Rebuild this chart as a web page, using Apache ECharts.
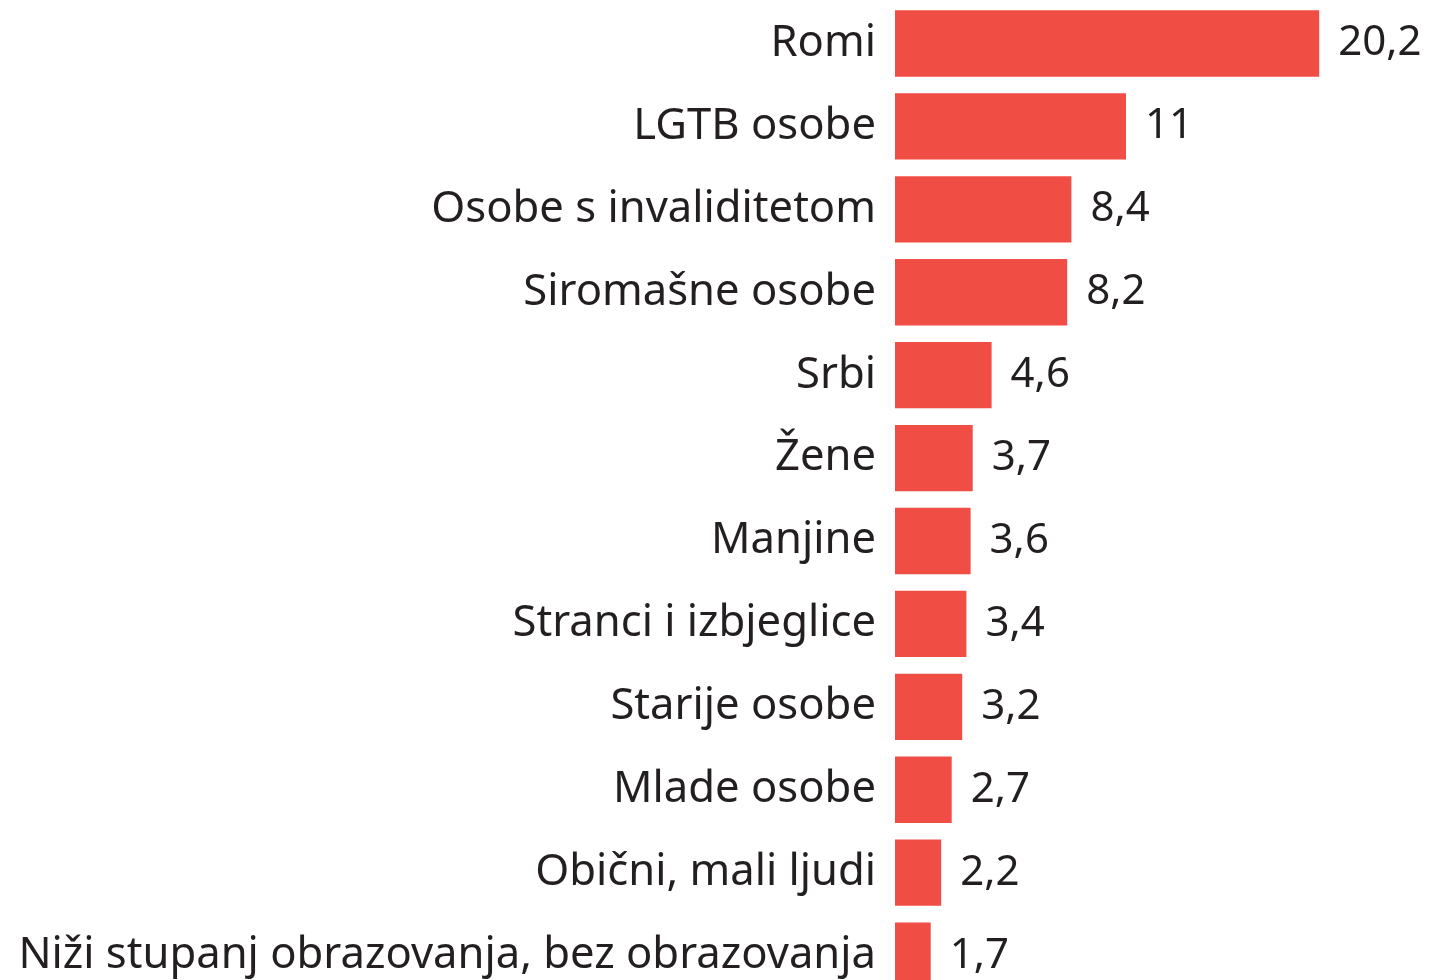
<!DOCTYPE html>
<html>
<head>
<meta charset="utf-8">
<script src="https://cdn.jsdelivr.net/npm/echarts@6/dist/echarts.min.js"></script>
<style>
  html, body { margin: 0; padding: 0; background: #fff; overflow: hidden; }
  #chart { width: 1430px; height: 997px; }
</style>
</head>
<body>
<div id="chart"></div>
<script>
var categories = ['Romi', 'LGTB osobe', 'Osobe s invaliditetom', 'Siromašne osobe', 'Srbi', 'Žene',
    'Manjine', 'Stranci i izbjeglice', 'Starije osobe', 'Mlade osobe', 'Obični, mali ljudi',
    'Niži stupanj obrazovanja, bez obrazovanja'];
var values = [20.2, 11, 8.4, 8.2, 4.6, 3.7, 3.6, 3.4, 3.2, 2.7, 2.2, 1.7];

// chart is a bit taller than the window so the last bar gets cut like in the original
var myChart = echarts.init(document.getElementById('chart'));

var option = {
    animation: false,
    grid: { left: 895, top: 2, right: 10, bottom: 0 },
    xAxis: {
        type: 'value',
        min: 0,
        max: 25,
        show: false
    },
    yAxis: {
        type: 'category',
        data: categories,
        inverse: true,
        axisLine: { show: false },
        axisTick: { show: false },
        axisLabel: {
            margin: 19,
            color: '#231f20',
            fontFamily: 'Noto Sans',
            fontSize: 43.6
        }
    },
    series: [{
        type: 'bar',
        data: values,
        barCategoryGap: '20%',
        itemStyle: { color: '#f04e45' },
        label: {
            show: true,
            position: 'right',
            distance: 19,
            color: '#231f20',
            fontFamily: 'Noto Sans',
            fontSize: 42,
            formatter: function (p) {
                return String(p.value).replace('.', ',');
            }
        }
    }]
};

myChart.setOption(option);
</script>
</body>
</html>
